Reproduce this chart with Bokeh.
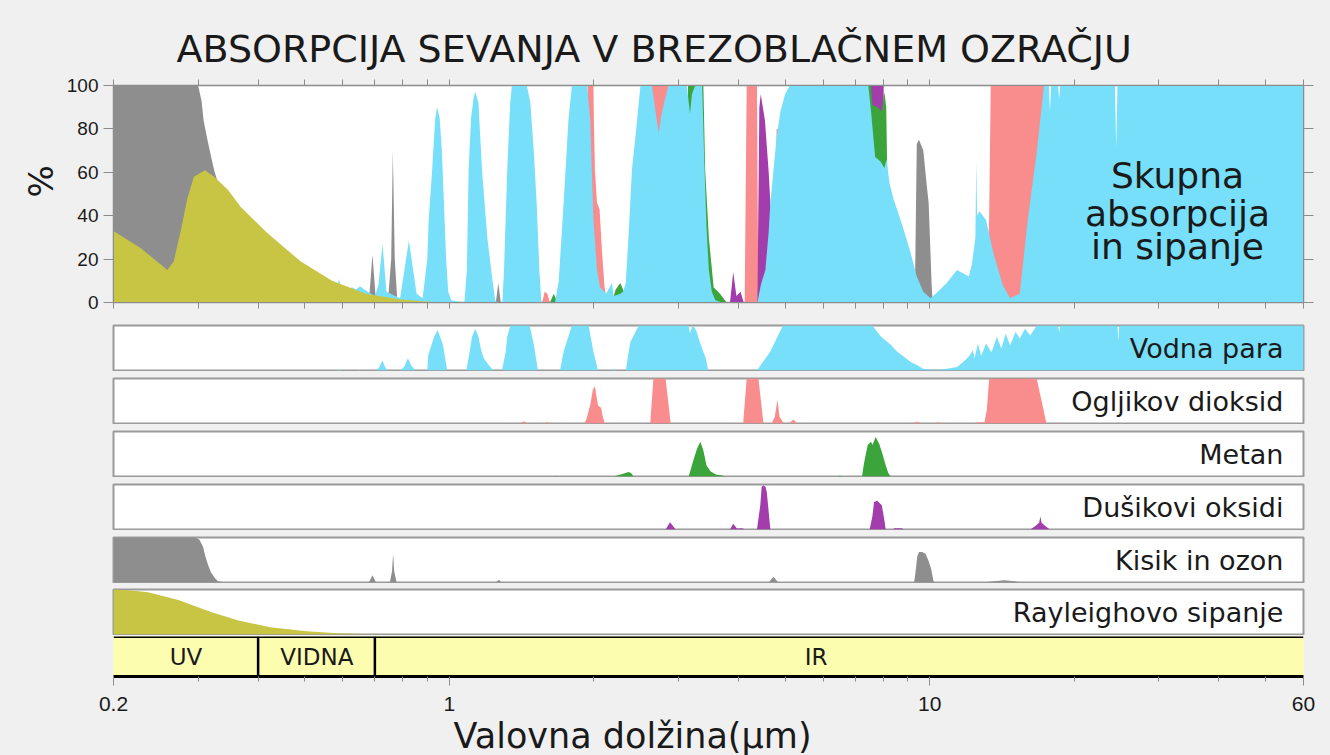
from bokeh.plotting import figure
from bokeh.layouts import column
from bokeh.models import (Range1d, LogAxis, LinearAxis, FixedTicker, Span, Title,
                          CustomJSTickFormatter)
from bokeh.core.properties import value
from bokeh.embed import file_html
from bokeh.resources import INLINE

# ---------------- texts / ticks ----------------
TITLE = "ABSORPCIJA SEVANJA V BREZOBLAČNEM OZRAČJU"
X_LABEL = "Valovna dolžina(µm)"
Y_LABEL = "%"
X_MIN, X_MAX = 0.2, 60
X_TICKS_ALL = [0.2, 0.3, 0.4, 0.5, 0.6, 0.7, 0.8, 0.9, 1, 2, 3, 4, 5, 6, 7, 8, 9,
               10, 20, 30, 40, 50, 60]
X_TICKS_LABELED = [0.2, 1, 10, 60]
X_TICKS_MINOR = [0.3, 0.4, 0.5, 0.6, 0.7, 0.8, 0.9, 2, 3, 4, 5, 6, 7, 8, 9, 20, 30, 40, 50]
Y_TICKS = [0, 20, 40, 60, 80, 100]
MAIN_TEXT = ["Skupna", "absorpcija", "in sipanje"]
PANEL_LABELS = ["Vodna para", "Ogljikov dioksid", "Metan", "Dušikovi oksidi",
                "Kisik in ozon", "Rayleighovo sipanje"]
BAND_NAMES = ["UV", "VIDNA", "IR"]
BAND_EDGES = [0.2, 0.4, 0.7, 60]

# ---------------- main panel (visible upper edge of each colour, %) ----------------
MAIN_CO2 = [(1.56, 0), (1.58, 5), (1.6, 4), (1.62, 0), (1.93, 0), (1.94, 100), (1.996, 100),
            (2.0, 84), (2.01, 61), (2.03, 46), (2.055, 43), (2.08, 23), (2.105, 7), (2.13, 0),
            (2.6, 0), (2.62, 100), (2.88, 100), (2.92, 0), (4.12, 0), (4.16, 100), (4.37, 100),
            (4.40, 0), (4.78, 0), (4.8, 80), (4.84, 80), (4.86, 0), (13.15, 0), (13.3, 40),
            (13.4, 100), (17.3, 100), (17.5, 0)]
MAIN_O2 = [(0.2, 100), (0.3, 100), (0.305, 93), (0.308, 84), (0.313, 76), (0.318, 69),
           (0.324, 61), (0.329, 56), (0.34, 40), (0.36, 0), (0.68, 0), (0.692, 22), (0.704, 0),
           (0.745, 0), (0.757, 20), (0.763, 70), (0.770, 20), (0.78, 0), (1.25, 0), (1.265, 9),
           (1.28, 0), (9.28, 0), (9.33, 15), (9.40, 73), (9.5, 75), (9.7, 70), (9.85, 55),
           (9.95, 46), (10.1, 7), (10.15, 0)]
MAIN_N2O = [(3.84, 0), (3.9, 14), (3.96, 3), (4.04, 5), (4.1, 0), (4.38, 0), (4.42, 90),
            (4.45, 96), (4.54, 84), (4.62, 61), (4.66, 46), (4.72, 0), (7.5, 0), (7.55, 100),
            (8.02, 100), (8.06, 0)]
MAIN_CH4 = [(1.62, 0), (1.65, 4), (1.68, 0), (2.18, 0), (2.22, 6), (2.27, 9), (2.32, 4),
            (2.36, 0), (3.1, 0), (3.14, 100), (3.38, 100), (3.41, 61), (3.47, 30), (3.55, 7),
            (3.66, 4), (3.78, 0), (7.3, 0), (7.35, 100), (7.55, 100), (7.6, 91), (7.8, 90),
            (7.95, 88), (8.05, 97), (8.12, 90), (8.16, 60), (8.2, 0)]
MAIN_H2O = [(0.55, 0), (0.58, 0), (0.589, 11), (0.6, 4), (0.62, 6), (0.627, 7), (0.64, 6),
            (0.652, 7.5), (0.665, 6), (0.70, 3), (0.712, 8), (0.726, 27), (0.74, 5), (0.79, 2),
            (0.824, 28.6), (0.855, 4), (0.88, 2), (0.9, 20), (0.906, 38), (0.921, 61),
            (0.935, 85), (0.943, 90), (0.955, 85), (0.965, 70), (0.975, 45), (0.985, 20),
            (0.995, 5), (1.01, 1), (1.075, 0), (1.088, 15), (1.097, 61), (1.11, 85),
            (1.125, 95), (1.133, 97), (1.15, 92), (1.17, 61), (1.2, 30), (1.227, 12),
            (1.246, 1), (1.26, 0), (1.29, 0), (1.3, 15), (1.32, 61), (1.339, 92), (1.35, 100),
            (1.45, 100), (1.475, 92), (1.5, 69), (1.52, 46), (1.54, 15), (1.555, 0), (1.66, 0),
            (1.69, 10), (1.73, 46), (1.77, 84), (1.8, 100), (1.935, 100), (1.966, 84),
            (1.98, 61), (1.996, 38), (2.03, 15), (2.06, 7), (2.12, 4), (2.18, 9), (2.2, 3),
            (2.27, 4), (2.3, 5), (2.33, 9), (2.36, 30), (2.4, 61), (2.46, 84), (2.5, 100),
            (2.64, 100), (2.7, 85), (2.73, 78), (2.76, 86), (2.8, 92), (2.86, 100), (3.12, 100),
            (3.14, 95), (3.17, 87), (3.2, 96), (3.25, 100), (3.36, 100), (3.39, 70), (3.43, 35),
            (3.47, 15), (3.52, 5), (3.58, 1), (3.7, 0), (4.38, 0), (4.45, 8), (4.55, 15),
            (4.62, 32), (4.66, 46), (4.73, 61), (4.8, 76), (4.89, 88), (5.0, 96), (5.12, 100),
            (7.45, 100), (7.55, 88), (7.7, 67), (7.9, 65), (8.05, 62), (8.13, 66), (8.25, 55),
            (8.4, 48), (8.76, 36), (9.1, 24), (9.4, 12), (9.7, 5), (10.04, 2), (10.4, 5),
            (10.85, 9), (11.4, 15), (12.07, 12), (12.25, 18), (12.45, 30), (12.5, 65),
            (12.55, 40), (12.7, 42), (13.1, 38), (13.6, 22), (14.2, 8), (14.7, 2), (15.4, 4),
            (16.0, 38), (16.7, 69), (17.3, 100), (17.7, 100), (17.8, 88), (17.9, 100),
            (18.5, 100), (18.6, 94), (18.7, 100), (24.3, 100), (24.45, 71), (24.6, 100),
            (60, 100)]
MAIN_RAYLEIGH = [(0.2, 33), (0.228, 25), (0.259, 15), (0.267, 19), (0.276, 33), (0.285, 48),
                 (0.294, 58), (0.31, 61), (0.324, 58), (0.346, 52), (0.368, 44), (0.418, 32),
                 (0.49, 19), (0.57, 10), (0.67, 4), (0.79, 1.4), (0.93, 0.2), (1.0, 0)]

# ---------------- individual panels (%) ----------------
H2O = [(0.55, 0), (0.58, 0), (0.59, 2), (0.6, 0), (0.64, 0), (0.65, 1), (0.66, 0), (0.705, 0),
       (0.715, 8), (0.726, 23), (0.735, 8), (0.745, 0), (0.79, 0), (0.805, 8), (0.82, 27),
       (0.835, 10), (0.85, 0), (0.9, 0), (0.904, 34), (0.917, 55), (0.93, 75), (0.946, 90),
       (0.97, 57), (0.99, 0), (1.085, 0), (1.1, 35), (1.115, 75), (1.133, 93), (1.15, 75),
       (1.165, 45), (1.18, 27), (1.207, 12), (1.236, 0), (1.287, 0), (1.31, 40), (1.32, 75),
       (1.34, 100), (1.47, 100), (1.5, 57), (1.53, 0), (1.7, 0), (1.73, 42), (1.8, 100),
       (1.95, 100), (1.995, 42), (2.04, 0), (2.18, 0), (2.2, 4), (2.23, 0), (2.33, 0),
       (2.38, 62), (2.48, 100), (3.15, 100), (3.17, 83), (3.2, 97), (3.23, 97), (3.27, 87),
       (3.33, 60), (3.42, 27), (3.46, 0), (4.37, 0), (4.51, 21), (4.66, 42), (4.8, 71),
       (4.95, 100), (7.6, 100), (7.88, 78), (8.0, 71), (8.3, 57), (8.55, 42), (8.83, 31),
       (9.1, 20), (9.4, 12), (9.7, 4), (10.2, 1), (10.7, 3), (11.4, 8), (11.75, 19), (12.1, 33),
       (12.3, 45), (12.4, 27), (12.6, 60), (12.8, 33), (13.1, 60), (13.45, 40), (13.8, 75),
       (14.1, 49), (14.4, 82), (14.7, 56), (15.1, 86), (15.4, 71), (15.8, 93), (16.2, 78),
       (16.7, 100), (18.5, 100), (18.6, 85), (18.7, 100), (24.6, 100), (24.7, 65),
       (24.8, 100), (60, 100)]
CO2 = [(1.40, 0), (1.43, 5), (1.46, 0), (1.57, 0), (1.6, 3), (1.63, 0), (1.91, 0), (1.93, 10),
       (1.966, 42), (1.99, 75), (2.01, 83), (2.025, 60), (2.04, 40), (2.07, 35), (2.09, 12),
       (2.11, 0), (2.62, 0), (2.66, 100), (2.82, 100), (2.89, 0), (4.09, 0), (4.16, 100),
       (4.4, 100), (4.51, 0), (4.69, 0), (4.76, 15), (4.82, 53), (4.87, 15), (4.97, 0),
       (5.1, 0), (5.2, 9), (5.3, 0), (9.2, 0), (9.4, 4), (9.7, 0), (10.2, 0), (10.4, 3),
       (10.7, 0), (12.4, 0), (12.6, 3), (13.0, 3), (13.15, 30), (13.3, 100), (16.7, 100),
       (17.1, 50), (17.5, 0), (18.3, 0), (18.5, 2), (18.8, 0)]
CH4 = [(1.64, 0), (1.67, 1), (1.7, 0), (2.2, 0), (2.3, 6), (2.36, 10), (2.39, 8), (2.42, 0),
       (3.15, 0), (3.23, 40), (3.28, 62), (3.33, 77), (3.35, 70), (3.38, 58), (3.43, 25),
       (3.5, 11), (3.6, 4), (3.7, 2), (3.75, 0), (6.4, 0), (6.5, 1.5), (6.6, 0), (7.23, 0),
       (7.3, 30), (7.43, 70), (7.55, 77), (7.6, 70), (7.72, 88), (7.85, 73), (7.95, 55),
       (8.1, 25), (8.2, 8), (8.3, 0)]
N2O = [(2.82, 0), (2.88, 16), (2.96, 0), (3.84, 0), (3.9, 13), (3.97, 2), (4.07, 3),
       (4.13, 0), (4.37, 0), (4.44, 54), (4.47, 95), (4.51, 98), (4.55, 95), (4.58, 84),
       (4.66, 0), (7.5, 0), (7.6, 30), (7.66, 61), (7.78, 64), (7.95, 54), (8.05, 20),
       (8.1, 0), (8.35, 0), (8.45, 3), (8.75, 3), (8.85, 0), (16.2, 0), (16.6, 8), (16.9, 15),
       (17.0, 29), (17.1, 15), (17.4, 8), (17.8, 0)]
O2_O3 = [(0.2, 100), (0.296, 100), (0.302, 95), (0.307, 80), (0.311, 56), (0.315, 38),
         (0.319, 23), (0.325, 10), (0.33, 3), (0.34, 0), (0.68, 0), (0.692, 16), (0.704, 0),
         (0.752, 0), (0.76, 25), (0.764, 64), (0.768, 25), (0.777, 0), (1.25, 0), (1.268, 6),
         (1.285, 0), (4.62, 0), (4.73, 13), (4.84, 0), (9.28, 0), (9.35, 25), (9.42, 58),
         (9.5, 68), (9.65, 68), (9.8, 64), (9.95, 48), (10.07, 30), (10.2, 0), (12.9, 0),
         (13.6, 3), (14.3, 5), (15.0, 3), (15.6, 0)]
RAYLEIGH = [(0.2, 100), (0.218, 98), (0.236, 94), (0.274, 76), (0.319, 50), (0.364, 31),
            (0.424, 16), (0.504, 7), (0.586, 3), (0.69, 0.5), (0.8, 0)]

# ---------------- style ----------------
BG = "#f0f0f0"
AX = "#8c8c8c"
TXT = "#1a1a1a"
C_H2O = "#77dff9"
C_CO2 = "#f98c8d"
C_CH4 = "#3ba53b"
C_N2O = "#a23dab"
C_O2 = "#8e8e8e"
C_RAY = "#c8c444"
C_BAND = "#fdfdb0"

W = 1330
B_LEFT, B_RIGHT = 113, 27
MAIN_TEXT_X = 32.8
MAIN_TEXT_Y = [58.5, 40.8, 25.6]
PANEL_LABEL_X = 54.5
BAND_LABEL_X = [0.283, 0.53, 5.8]


def xy(pairs):
    return [p[0] for p in pairs], [p[1] for p in pairs]


x_range = Range1d(X_MIN, X_MAX)


def ticks_only(ax, out):
    # ticks without labels: all ticks are given as minor ticks
    ax.major_tick_line_color = None
    ax.minor_tick_out = out
    ax.minor_tick_in = 0
    ax.minor_tick_line_color = AX
    ax.axis_line_color = AX
    ax.major_label_standoff = 0


# ---------------- main panel ----------------
main = figure(width=W, height=318, x_axis_type="log", x_range=x_range,
              y_range=Range1d(0, 100), output_backend="svg", toolbar_location=None,
              min_border_left=B_LEFT, min_border_right=B_RIGHT, min_border_top=85,
              min_border_bottom=16, background_fill_color="white", border_fill_color=BG,
              outline_line_color=AX, outline_line_width=1.5, title=TITLE)
main.grid.visible = False
main.title.text_font = "DejaVu Sans"
main.title.text_font_size = "38px"
main.title.text_font_style = "normal"
main.title.text_color = TXT
main.title.align = "left"
main.title.offset = 63
main.title.standoff = 17

bax = main.xaxis[0]
bax.ticker = FixedTicker(ticks=[], minor_ticks=X_TICKS_ALL)
ticks_only(bax, 6)

lax = main.yaxis[0]
lax.ticker = FixedTicker(ticks=Y_TICKS, minor_ticks=[])
lax.major_tick_out = 10
lax.major_tick_in = 0
lax.minor_tick_line_color = None
lax.axis_line_color = AX
lax.major_tick_line_color = AX
lax.major_label_text_font = "Liberation Sans"
lax.major_label_text_font_size = "19px"
lax.major_label_text_color = TXT
lax.major_label_standoff = 5

tax = LogAxis(ticker=FixedTicker(ticks=[], minor_ticks=X_TICKS_ALL))
ticks_only(tax, 6)
main.add_layout(tax, "above")
rax = LinearAxis(ticker=FixedTicker(ticks=[], minor_ticks=Y_TICKS))
ticks_only(rax, 10)
main.add_layout(rax, "right")
main.add_layout(Title(text=Y_LABEL, align="left", offset=105, standoff=6,
                      text_font="DejaVu Sans", text_font_size="34px",
                      text_font_style="normal", text_color=TXT), "left")

for pairs, col in [(MAIN_CO2, C_CO2), (MAIN_O2, C_O2), (MAIN_N2O, C_N2O),
                   (MAIN_CH4, C_CH4), (MAIN_H2O, C_H2O), (MAIN_RAYLEIGH, C_RAY)]:
    xs, ys = xy(pairs)
    main.varea(x=xs, y1=0, y2=ys, fill_color=col)

main.text(x=[MAIN_TEXT_X] * 3, y=MAIN_TEXT_Y, text=MAIN_TEXT, text_align="center",
          text_baseline="middle", text_font=value("DejaVu Sans"), text_font_size="36px",
          text_color=TXT)

# ---------------- component panels ----------------
panels = []
specs = [(H2O, C_H2O, 7), (CO2, C_CO2, 7), (CH4, C_CH4, 7), (N2O, C_N2O, 7),
         (O2_O3, C_O2, 7), (RAYLEIGH, C_RAY, 6)]
for (pairs, col, top), label in zip(specs, PANEL_LABELS):
    f = figure(width=W, height=top + 45 + 1, x_axis_type="log", x_range=x_range,
               y_range=Range1d(0, 100), x_axis_location=None, y_axis_location=None,
               output_backend="svg", toolbar_location=None,
               min_border_left=B_LEFT, min_border_right=B_RIGHT, min_border_top=top,
               min_border_bottom=1, background_fill_color="white", border_fill_color=BG,
               outline_line_color="#9a9a9a", outline_line_width=2)
    f.grid.visible = False
    xs, ys = xy(pairs)
    f.varea(x=xs, y1=0, y2=ys, fill_color=col)
    f.text(x=[PANEL_LABEL_X], y=[50], text=[label], text_align="right",
           text_baseline="middle", text_font=value("DejaVu Sans"), text_font_size="27px",
           text_color=TXT)
    panels.append(f)

# ---------------- spectral band bar ----------------
band = figure(width=W, height=120, x_axis_type="log", x_range=x_range, y_range=Range1d(0, 1),
              y_axis_location=None, output_backend="svg", toolbar_location=None,
              min_border_left=B_LEFT, min_border_right=B_RIGHT, min_border_top=1,
              min_border_bottom=79, background_fill_color=C_BAND, border_fill_color=BG,
              outline_line_color=None)
band.grid.visible = False
band.quad(left=BAND_EDGES[:-1], right=BAND_EDGES[1:], bottom=0, top=1, fill_color=C_BAND,
          line_color=None)
band.segment(x0=BAND_EDGES[1:-1], x1=BAND_EDGES[1:-1], y0=0, y1=1, line_color="black",
             line_width=2.5)
band.add_layout(Span(location=1, dimension="width", line_color="black", line_width=3))
band.text(x=BAND_LABEL_X, y=[0.5] * 3, text=BAND_NAMES, text_align="center",
          text_baseline="middle", text_font=value("DejaVu Sans"), text_font_size="23px",
          text_color=TXT)
ax = band.xaxis[0]
ax.ticker = FixedTicker(ticks=X_TICKS_LABELED, minor_ticks=X_TICKS_MINOR)
ax.formatter = CustomJSTickFormatter(code="return String(tick);")
ax.axis_line_color = "black"
ax.axis_line_width = 3
ax.major_tick_out = 9
ax.major_tick_in = 0
ax.minor_tick_out = 5
ax.minor_tick_in = 0
ax.major_tick_line_color = AX
ax.minor_tick_line_color = AX
ax.major_label_text_font = "Liberation Sans"
ax.major_label_text_font_size = "21px"
ax.major_label_text_color = TXT
ax.major_label_standoff = 11
band.add_layout(Title(text=X_LABEL, align="left", offset=340, standoff=0,
                      text_font="DejaVu Sans", text_font_size="35px",
                      text_font_style="normal", text_color=TXT), "below")

p = column(main, *panels, band, spacing=0, styles={"background-color": BG})

open("out.html", "w").write(file_html(p, INLINE))
